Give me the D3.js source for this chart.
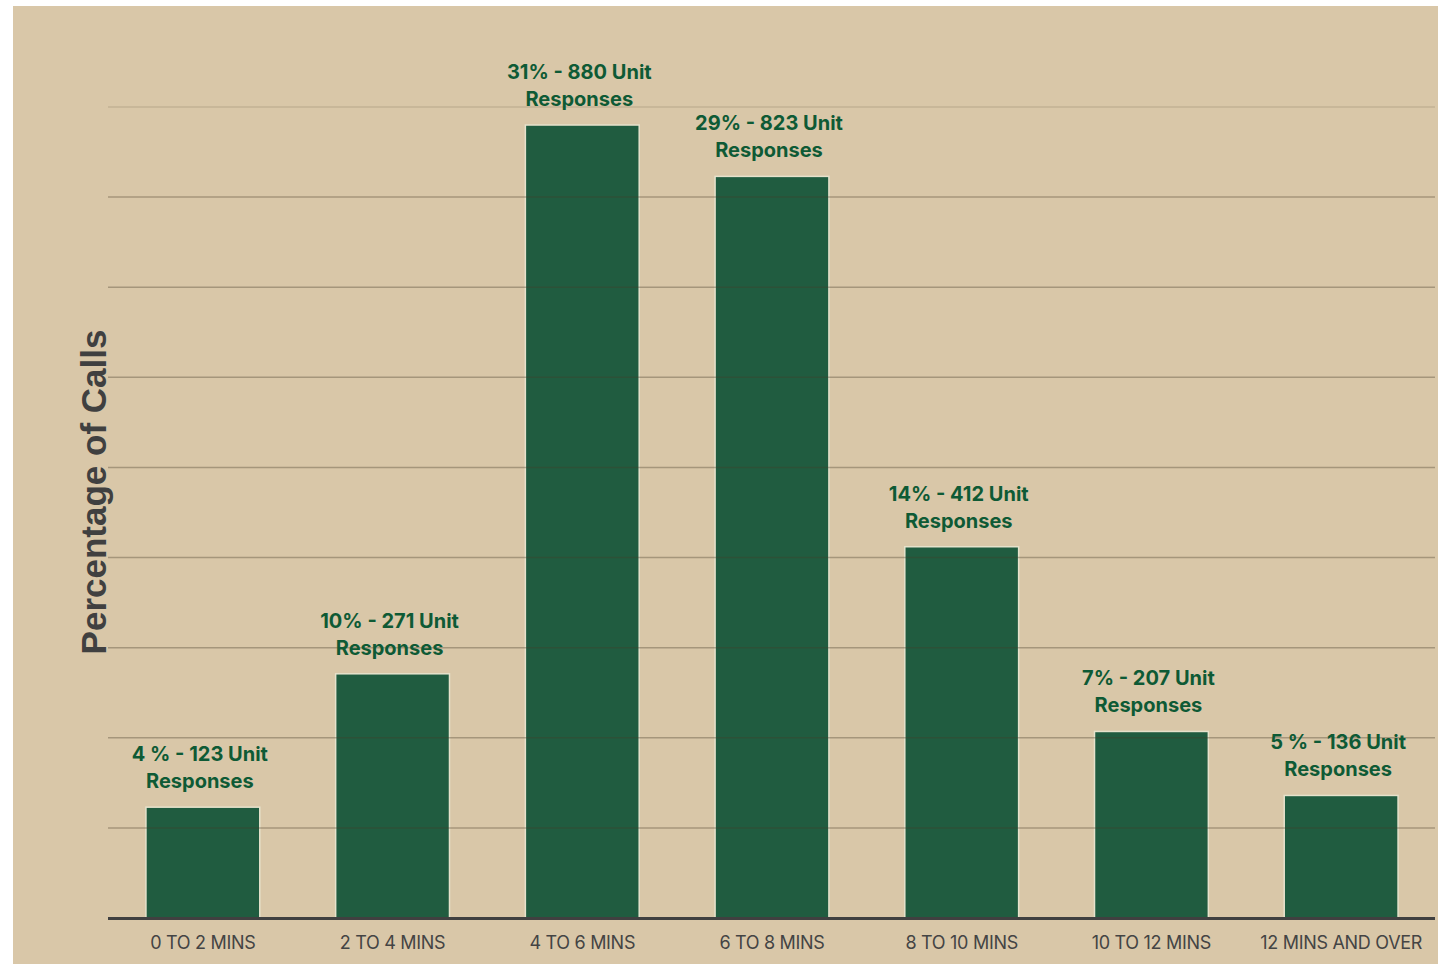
<!DOCTYPE html>
<html>
<head>
<meta charset="utf-8">
<script src="https://cdn.jsdelivr.net/npm/d3@7"></script>
<style>
  body { margin: 0; background: #ffffff; }
</style>
</head>
<body>
<div id="chart"></div>
<script>
// response time buckets and unit response counts
const categories = ["0 TO 2 MINS", "2 TO 4 MINS", "4 TO 6 MINS", "6 TO 8 MINS", "8 TO 10 MINS", "10 TO 12 MINS", "12 MINS AND OVER"];
const counts = [123, 271, 880, 823, 412, 207, 136];
const percentLabels = ["4 %", "10%", "31%", "29%", "14%", "7%", "5 %"];
const gridTicks = [100, 200, 300, 400, 500, 600, 700, 800, 900];

const width = 1441;
const height = 964;
const margin = { top: 107, right: 5, bottom: 46, left: 108 };

const data = categories.map((c, i) => ({ cat: c, count: counts[i], pct: percentLabels[i] }));

const svg = d3.select("#chart").append("svg")
  .attr("width", width)
  .attr("height", height);

// tan panel
svg.append("rect")
  .attr("x", 13).attr("y", 6)
  .attr("width", 1425).attr("height", 958)
  .attr("fill", "#d9c7a8");

const x = d3.scaleBand()
  .domain(categories)
  .range([margin.left, width - margin.right])
  .paddingInner(0.4)
  .paddingOuter(0.2);

const y = d3.scaleLinear()
  .domain([0, 900])
  .range([height - margin.bottom, margin.top]);

// bars
svg.append("g")
  .selectAll("rect")
  .data(data)
  .join("rect")
  .attr("x", d => x(d.cat))
  .attr("y", d => y(d.count))
  .attr("width", x.bandwidth())
  .attr("height", d => y(0) - y(d.count))
  .attr("fill", "#205c40")
  .attr("stroke", "#e6e2cc")
  .attr("stroke-width", 1.5);

// gridlines drawn over the bars
svg.append("g")
  .selectAll("line")
  .data(gridTicks)
  .join("line")
  .attr("x1", margin.left)
  .attr("x2", width - margin.right - 1)
  .attr("y1", d => y(d))
  .attr("y2", d => y(d))
  .attr("stroke", d => d === 900 ? "rgba(70,60,40,0.15)" : "rgba(70,60,40,0.35)")
  .attr("stroke-width", 1.5);

// baseline
svg.append("line")
  .attr("x1", margin.left)
  .attr("x2", width - margin.right - 1)
  .attr("y1", y(0) + 0.5)
  .attr("y2", y(0) + 0.5)
  .attr("stroke", "#404040")
  .attr("stroke-width", 3);

// x axis labels
svg.append("g")
  .selectAll("text")
  .data(categories)
  .join("text")
  .attr("x", d => x(d) + x.bandwidth() / 2)
  .attr("y", y(0) + 31)
  .attr("text-anchor", "middle")
  .style("font-family", "Inter, Roboto, sans-serif")
  .style("font-size", "18px")
  .style("letter-spacing", "-0.3px")
  .style("fill", "#444444")
  .text(d => d);

// value labels
const labels = svg.append("g")
  .selectAll("text")
  .data(data)
  .join("text")
  .attr("text-anchor", "middle")
  .style("font-family", "Inter, Roboto, sans-serif")
  .style("font-weight", "bold")
  .style("font-size", "20px")
  .style("fill", "#0e5a35");

labels.append("tspan")
  .attr("x", d => x(d.cat) + x.bandwidth() / 2 - 3)
  .attr("y", d => y(d.count) - 46)
  .text(d => d.pct + " - " + d.count + " Unit");

labels.append("tspan")
  .attr("x", d => x(d.cat) + x.bandwidth() / 2 - 3)
  .attr("y", d => y(d.count) - 19)
  .text("Responses");

// y axis title
svg.append("text")
  .attr("transform", "translate(" + 106 + "," + 492 + ") rotate(-90)")
  .attr("text-anchor", "middle")
  .style("font-family", "'Liberation Sans', Arial, sans-serif")
  .style("font-weight", "bold")
  .style("font-size", "35px")
  .style("fill", "#404040")
  .text("Percentage of Calls");
</script>
</body>
</html>
